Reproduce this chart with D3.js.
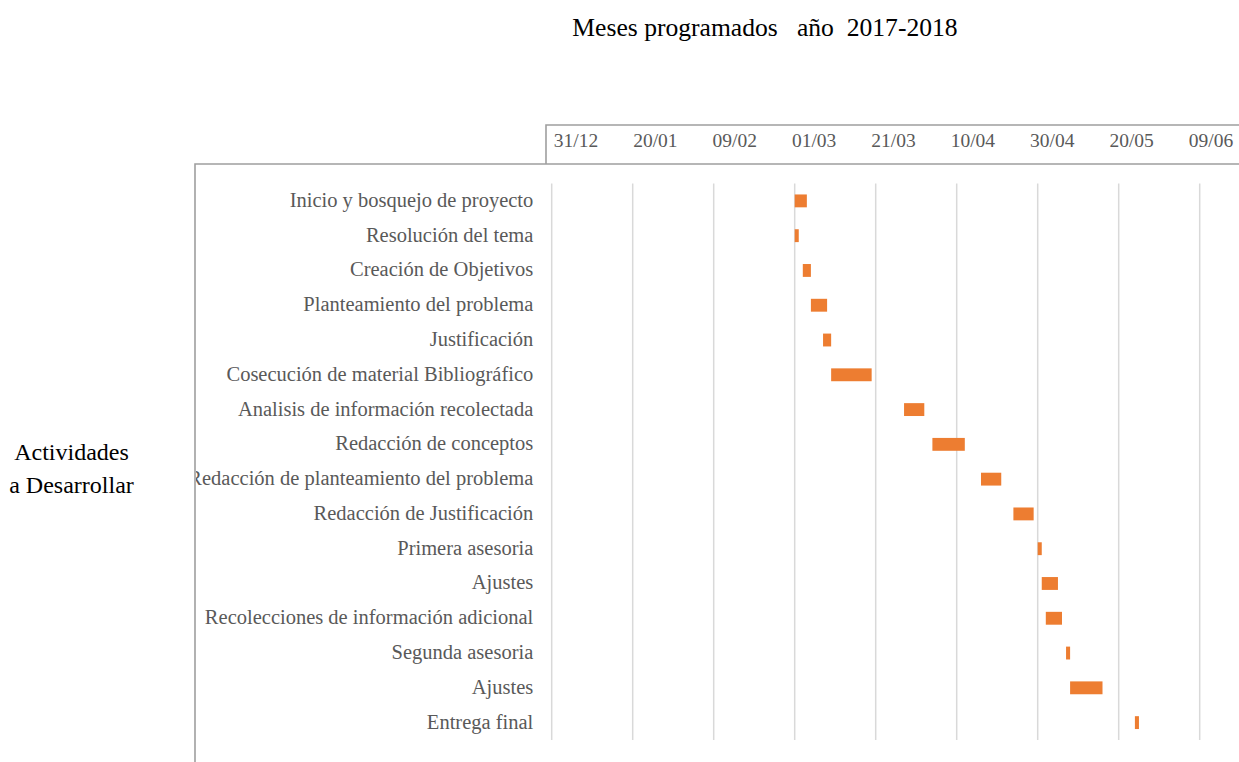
<!DOCTYPE html>
<html>
<head>
<meta charset="utf-8">
<script src="https://cdn.jsdelivr.net/npm/d3@7"></script>
<style>
  html, body { margin: 0; padding: 0; background: #fff; }
  svg { display: block; font-family: "Liberation Serif", "Times New Roman", serif; }
</style>
</head>
<body>
<svg id="chart" width="1239" height="762"></svg>
<script>
// ---- data ----
const tasks = [
  "Inicio y bosquejo de proyecto",
  "Resolución del tema",
  "Creación de Objetivos",
  "Planteamiento del problema",
  "Justificación",
  "Cosecución de material Bibliográfico",
  "Analisis de información recolectada",
  "Redacción de conceptos",
  "Redacción de planteamiento del problema",
  "Redacción de Justificación",
  "Primera asesoria",
  "Ajustes",
  "Recolecciones de información adicional",
  "Segunda asesoria",
  "Ajustes",
  "Entrega final"
];
const startDates = [
  "2018-03-01", "2018-03-01", "2018-03-03", "2018-03-05",
  "2018-03-08", "2018-03-10", "2018-03-28", "2018-04-04",
  "2018-04-16", "2018-04-24", "2018-04-30", "2018-05-01",
  "2018-05-02", "2018-05-07", "2018-05-08", "2018-05-24"
];
const durations = [3, 1, 2, 4, 2, 10, 5, 8, 5, 5, 1, 4, 4, 1, 8, 1];
const tickDates = [
  "2017-12-31", "2018-01-20", "2018-02-09", "2018-03-01", "2018-03-21",
  "2018-04-10", "2018-04-30", "2018-05-20", "2018-06-09"
];
const tickLabels = ["31/12", "20/01", "09/02", "01/03", "21/03", "10/04", "30/04", "20/05", "09/06"];
const titleText = "Meses programados   año  2017-2018";
const yTitleLines = ["Actividades", "a Desarrollar"];

// ---- setup ----
const parse = d3.utcParse("%Y-%m-%d");
const ticks = tickDates.map(parse);
const svg = d3.select("#chart");

const x = d3.scaleUtc()
  .domain([ticks[0], ticks[ticks.length - 1]])
  .range([551.7, 1199.7]);
// tick label positions (the label row is slightly offset from the gridlines)
const xLab = d3.scaleUtc()
  .domain([ticks[0], ticks[ticks.length - 1]])
  .range([575.5, 1210.5]);

const y = d3.scaleBand()
  .domain(d3.range(tasks.length))
  .range([183.5, 740])
  .paddingInner(0.63)
  .paddingOuter(0.315);

// ---- title ----
svg.append("text")
  .attr("x", 765).attr("y", 36)
  .attr("text-anchor", "middle")
  .style("white-space", "pre")
  .attr("font-size", 25.6)
  .attr("fill", "#000")
  .text(titleText);

// ---- y title ----
svg.append("text")
  .attr("text-anchor", "middle")
  .attr("font-size", 24)
  .attr("fill", "#000")
  .selectAll("tspan")
  .data(yTitleLines)
  .join("tspan")
  .attr("x", 71.5)
  .attr("y", (d, i) => 460 + i * 33)
  .text(d => d);

// ---- gridlines ----
svg.append("g")
  .selectAll("line")
  .data(ticks)
  .join("line")
  .attr("x1", d => x(d)).attr("x2", d => x(d))
  .attr("y1", 183.5).attr("y2", 740)
  .attr("stroke", "#d9d9d9")
  .attr("stroke-width", 1.5);

// ---- bars ----
svg.append("g")
  .selectAll("rect")
  .data(tasks.map((t, i) => ({ i, start: parse(startDates[i]), dur: durations[i] })))
  .join("rect")
  .attr("x", d => x(d.start))
  .attr("y", d => y(d.i))
  .attr("width", d => x(d3.utcDay.offset(d.start, d.dur)) - x(d.start))
  .attr("height", y.bandwidth())
  .attr("fill", "#ED7D31");

// ---- category labels (clipped by the left frame) ----
svg.append("clipPath").attr("id", "labclip")
  .append("rect").attr("x", 196).attr("y", 165).attr("width", 400).attr("height", 600);

const yAxis = d3.axisLeft(y)
  .tickSize(0)
  .tickPadding(0)
  .tickFormat(i => tasks[i]);

const yg = svg.append("g").attr("clip-path", "url(#labclip)")
  .append("g")
  .attr("transform", "translate(533.3,0)")
  .call(yAxis);
yg.select(".domain").remove();
yg.selectAll("text")
  .attr("font-family", "Liberation Serif, Times New Roman, serif")
  .attr("font-size", 20.5)
  .attr("fill", "#595959")
  .attr("dy", "0.29em");

// ---- top date axis ----
const xAxis = d3.axisTop(xLab)
  .tickValues(ticks)
  .tickSize(0)
  .tickPadding(0)
  .tickFormat((d, i) => tickLabels[i]);

const xg = svg.append("g")
  .attr("transform", "translate(0,146.7)")
  .call(xAxis);
xg.select(".domain").remove();
xg.selectAll("text")
  .attr("font-family", "Liberation Serif, Times New Roman, serif")
  .attr("font-size", 19.5)
  .attr("fill", "#595959");

// ---- frames ----
svg.append("path")
  .attr("d", "M195,762V164H1239")
  .attr("fill", "none")
  .attr("stroke", "#9f9f9f")
  .attr("stroke-width", 1.6);
svg.append("path")
  .attr("d", "M546,164V125H1239")
  .attr("fill", "none")
  .attr("stroke", "#9f9f9f")
  .attr("stroke-width", 1.6);
</script>
</body>
</html>
